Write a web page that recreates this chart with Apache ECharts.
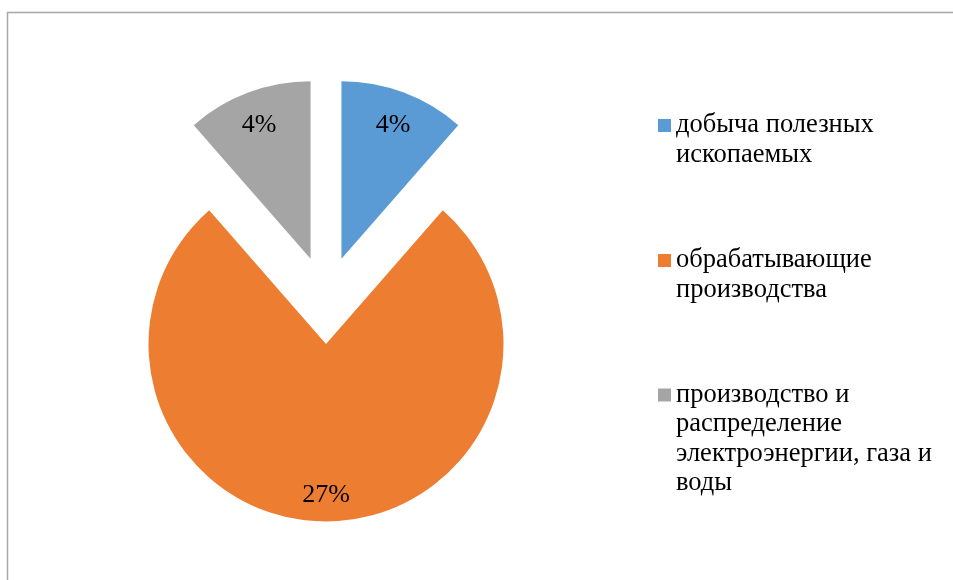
<!DOCTYPE html>
<html>
<head>
<meta charset="utf-8">
<script src="https://cdn.jsdelivr.net/npm/echarts@6/dist/echarts.min.js"></script>
<style>
  html, body { margin: 0; padding: 0; background: #fff; }
  #chart { width: 953px; height: 580px; }
</style>
</head>
<body>
<div id="chart"></div>
<script>
// chart data
var names = [
  'добыча полезных\nископаемых',
  'обрабатывающие\nпроизводства',
  'производство и\nраспределение\nэлектроэнергии, газа и\nводы'
];
var values = [4, 27, 4];
var colors = ['#5B9BD5', '#ED7D31', '#A5A5A5'];

var chart = echarts.init(document.getElementById('chart'));

var FONT = '"Liberation Serif", "Times New Roman", serif';
var LH = 29.5;
var iconCenters = [125.5, 260.5, 395];
var center = [326, 300];
var R = 177.5;
var explode = 44;

var pieData = names.map(function (n, i) {
  return { name: n, value: values[i], selected: true, itemStyle: { color: colors[i] } };
});

// one legend per entry; blank lines in front keep the first text line
// level with the colour square (legend text is centred on the icon)
var legends = names.map(function (n, i) {
  var lines = n.split('\n').length;
  return {
    orient: 'vertical',
    left: 658,
    top: iconCenters[i] - (2 * lines - 1) * LH / 2,
    padding: 0,
    icon: 'rect',
    itemWidth: 13,
    itemHeight: 13,
    itemGap: 0,
    selectedMode: false,
    formatter: function (name) {
      return new Array(lines).join('\n') + name;
    },
    textStyle: {
      fontFamily: FONT,
      fontSize: 26.5,
      color: '#000',
      lineHeight: LH
    },
    data: [n]
  };
});

var option = {
  animation: false,
  graphic: [{
    type: 'rect',
    shape: { x: 7.5, y: 12.5, width: 960, height: 600 },
    style: { fill: 'none', stroke: '#a6a6a6', lineWidth: 1.5 },
    silent: true
  }],
  legend: legends,
  series: [{
    type: 'pie',
    center: center,
    radius: [0, R],
    startAngle: 90,
    selectedMode: 'multiple',
    selectedOffset: explode,
    label: { show: false },
    labelLine: { show: false },
    itemStyle: { borderWidth: 0 },
    emphasis: { disabled: true },
    data: pieData
  }, {
    type: 'pie',
    center: center,
    radius: [110, R],
    startAngle: 90,
    silent: true,
    selectedMode: 'multiple',
    selectedOffset: explode,
    itemStyle: { color: 'transparent', borderWidth: 0 },
    label: {
      show: true,
      position: 'inside',
      formatter: '{c}%',
      fontFamily: FONT,
      fontSize: 26,
      color: '#000'
    },
    labelLayout: { dy: 4 },
    labelLine: { show: false },
    emphasis: { disabled: true },
    data: names.map(function (n, i) {
      return { name: n, value: values[i], selected: true };
    })
  }]
};

chart.setOption(option);
</script>
</body>
</html>
